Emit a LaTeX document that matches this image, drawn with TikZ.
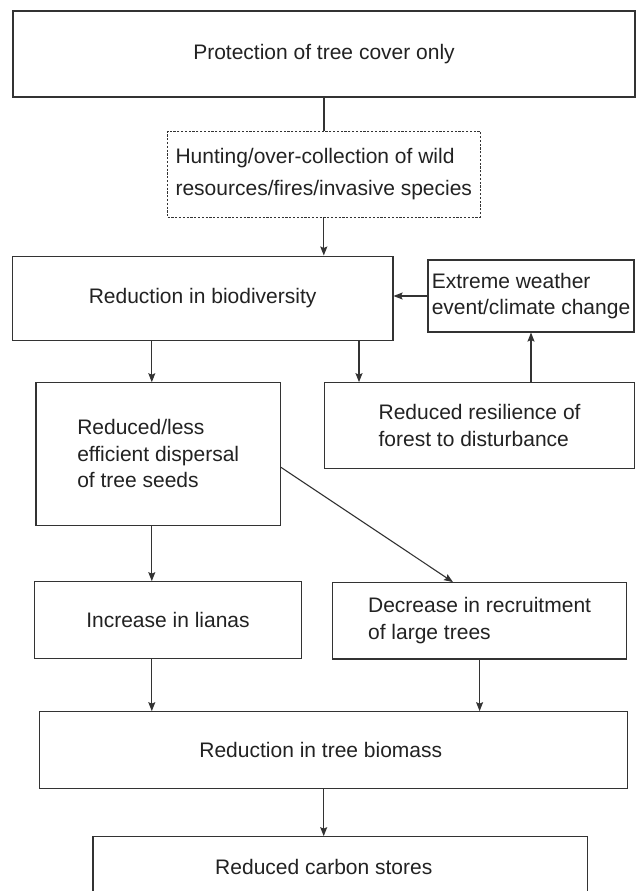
\documentclass[tikz,border=0pt]{standalone}
\usepackage{fontspec}
\setmainfont{Liberation Sans}
\usetikzlibrary{arrows.meta}
\definecolor{linec}{HTML}{333333}
\definecolor{textc}{HTML}{222222}
\begin{document}
\begin{tikzpicture}[x=1pt,y=-1pt,
  box/.style={draw=linec, line width=1.1pt, rectangle, inner sep=0pt,
    font=\fontsize{21}{26.5}\selectfont, text=textc, align=center},
  pbox/.style={draw=linec, line width=1.1pt, rectangle, inner sep=0pt,
    font=\fontsize{21}{26.5}\selectfont, text=textc},
  dbox/.style={box, dash pattern=on 2.2pt off 1.6pt, line width=0.9pt,
    font=\fontsize{21}{32}\selectfont},
  lbox/.style={box, align=left},
  conn/.style={draw=linec, line width=1.1pt},
  arr/.style={conn, -{Stealth[length=9pt,width=7pt,inset=1.5pt]}}]
\clip (0,0) rectangle (640,891);
\fill[white] (0,0) rectangle (640,891);
% nodes
\node[box, minimum width=622pt, minimum height=86pt] (top) at (324,54) {Protection of tree cover only};
\node[dbox, align=left, minimum width=312.5pt, minimum height=86pt] (hunt) at (323.8,174) {Hunting/over-collection of wild\\resources/fires/invasive species};
\node[box, minimum width=380.8pt, minimum height=84.7pt] (red) at (202.6,298.4) {Reduction in biodiversity};
\node[lbox, minimum width=206pt, minimum height=72pt] (ext) at (531,296) {Extreme weather\\event/climate change};
\node[lbox, minimum width=244.4pt, minimum height=142.3pt] (disp) at (158.2,453.9) {Reduced/less\\efficient dispersal\\of tree seeds};
\node[lbox, minimum width=310.2pt, minimum height=85.6pt] (resil) at (479.6,425.5) {Reduced resilience of\\forest to disturbance};
\node[box, minimum width=266.5pt, minimum height=76.6pt] (lianas) at (168,620) {Increase in lianas};
\node[lbox, minimum width=293.8pt, minimum height=76.3pt] (decr) at (479.6,620.8) {Decrease in recruitment\\of large trees};
\node[pbox, minimum width=587.7pt, minimum height=76.6pt] (bio) at (333.5,750) {Reduction in tree biomass\hspace*{25.4pt}};
\node[pbox, minimum width=494.8pt, minimum height=60pt] (carbon) at (340.4,866.7) {Reduced carbon stores\hspace*{33.2pt}};
% helper coordinates
\coordinate (xa) at (151.8,0);
\coordinate (xb) at (359,0);
\coordinate (xc) at (323.7,0);
\coordinate (d1) at (0,467.3);
\coordinate (d2) at (453,0);
% connectors
\draw[conn] (top.south) -- (top.south |- hunt.north);
\draw[arr] (hunt.south) -- (hunt.south |- red.north);
\draw[arr] (ext.west) -- (ext.west -| red.east);
\draw[arr] (xa |- red.south) -- (xa |- disp.north);
\draw[arr] (xb |- red.south) -- (xb |- resil.north);
\draw[arr] (ext.south |- resil.north) -- (ext.south);
\draw[arr] (disp.east |- d1) -- (d2 |- decr.north);
\draw[arr] (xa |- disp.south) -- (xa |- lianas.north);
\draw[arr] (decr.south) -- (decr.south |- bio.north);
\draw[arr] (xa |- lianas.south) -- (xa |- bio.north);
\draw[arr] (xc |- bio.south) -- (xc |- carbon.north);
\end{tikzpicture}
\end{document}
